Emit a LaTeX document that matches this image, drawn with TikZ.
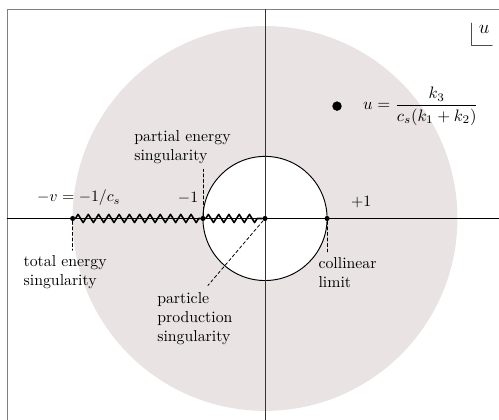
\documentclass[tikz,border=0pt]{standalone}
\usepackage{amsmath}
\usetikzlibrary{positioning,decorations.pathmorphing}
\definecolor{diskgray}{RGB}{233,227,227}
\tikzset{
	pt/.style={circle, fill=black, inner sep=0pt, minimum size=3.2pt},
	bigpt/.style={circle, fill=black, inner sep=0pt, minimum size=6pt},
	guide/.style={dash pattern=on 2pt off 1.5pt, line width=0.5pt},
	cut/.style={line width=1pt, decorate, decoration={zigzag, segment length=6.5pt, amplitude=2.6pt}},
	lbl/.style={align=left}
}
\begin{document}
\begin{tikzpicture}[line cap=round, line join=round, x=1.38cm, y=1.38cm]
		% Plane window and value of v = 1/c_s
		\def\xmin{-4.27} \def\xmax{3.77}
		\def\ymin{-3.24} \def\ymax{3.52}
		\def\vv{3.1}
		
		\clip (\xmin,\ymin) rectangle (\xmax,\ymax);
		
		% Shaded disk |u| < v and white unit disk
		\fill[diskgray] (0,0) circle (\vv);
		\draw[fill=white, line width=0.6pt] (0,0) circle (1);
		
		% Frame of the plane
		\draw[gray, line width=0.6pt] (-4.15,-4) rectangle (4.5,3.37);
		
		% Axes
		\draw[line width=0.6pt] (-4.15,0) -- (\xmax,0);
		\draw[black!80, line width=0.6pt] (0,\ymin) -- (0,3.37);
		
		% Label of the plane
		\draw[gray!60!black, line width=0.5pt] (3.33,3.15) |- (3.66,2.79);
		\node (uname) at (3.53,3.05) {\large $u$};
		
		% Points on the real axis
		\node[pt] (ptv) at (-\vv,0) {};
		\node[pt] (ptm) at (-1,0) {};
		\node[pt] (pto) at (0,0) {};
		\node[pt] (ptp) at (1,0) {};
		
		% Branch cut from -v to 0
		\draw[cut] (ptv) -- (ptm);
		\draw[cut] (ptm) -- (pto);
		
		% Axis values
		\node (vlabel) at (-3.0,0.33) {$-v=-1/c_s$};
		\node (mlabel) at (-1.24,0.33) {$-1$};
		\node (plabel) at (1.55,0.27) {$+1$};
		
		% The point u
		\node[bigpt] (udot) at (1.16,1.81) {};
		\node[right=3.4mm of udot, scale=1.05] (ulabel) {$u=\dfrac{k_3}{c_s(k_1+k_2)}$};
		
		% Singularity labels
		\node[lbl] (partial) at (-1.33,1.15) {partial energy\\singularity};
		\node[lbl] (total) at (-3.22,-0.87) {total energy\\singularity};
		\node[lbl] (colin) at (1.33,-0.87) {collinear\\limit};
		\node[lbl] (prod) at (-1.13,-1.61) {particle\\production\\singularity};
		\coordinate (prodend) at (-0.92,-1.08);
		
		% Dashed guides to the labels
		\draw[guide] (ptm) -- (ptm |- partial.south);
		\draw[guide] (ptv) -- (ptv |- total.north);
		\draw[guide] (ptp) -- (ptp |- colin.north);
		\draw[guide] (pto) -- (prodend);
	\end{tikzpicture}
\end{document}
